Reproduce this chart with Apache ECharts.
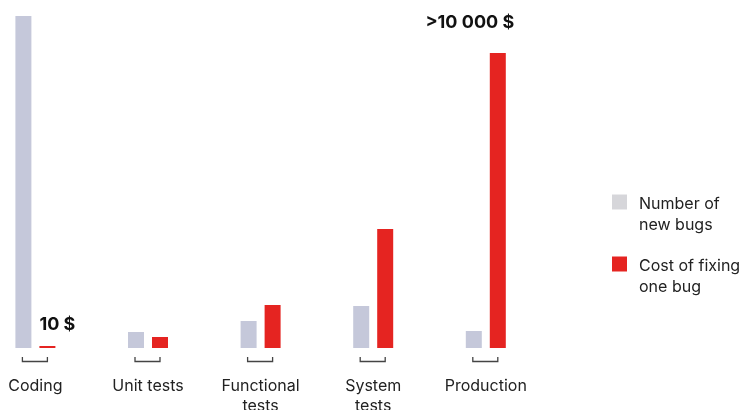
<!DOCTYPE html>
<html>
<head>
<meta charset="utf-8">
<script src="https://cdn.jsdelivr.net/npm/echarts@6/dist/echarts.min.js"></script>
<style>
  html, body { margin: 0; padding: 0; background: #fff; }
  #chart { width: 739px; height: 410px; }
</style>
</head>
<body>
<div id="chart"></div>
<script>
const categories = ["Coding", "Unit tests", "Functional\ntests", "System\ntests", "Production"];
const newBugs = [332, 16, 27, 42, 17];
const fixCost = [2, 11, 43, 119, 295];
const costLabels = ["10 $", "", "", "", ">10 000 $"];
const seriesNames = ["Number of\nnew bugs", "Cost of fixing\none bug"];

const FONT = "Inter, 'Noto Sans', sans-serif";
const GRAY = "#c5c8da";
const RED = "#e52421";

const chart = echarts.init(document.getElementById('chart'));

const costData = fixCost.map((v, i) => {
  const item = { value: v };
  if (costLabels[i]) {
    item.label = {
      show: true,
      formatter: costLabels[i],
      position: 'top',
      fontFamily: FONT,
      fontWeight: 'bold',
      fontSize: 18,
      color: '#111'
    };
    if (i === 0) {
      item.label.align = 'left';
      item.label.offset = [-8, 0];
      item.label.distance = 12;
    } else {
      item.label.offset = [-28, 0];
      item.label.distance = 21;
    }
  }
  return item;
});

chart.setOption({
  animation: false,
  grid: { left: -20.9, width: 563, top: 16, bottom: 62, outerBoundsMode: 'none', containLabel: false },
  xAxis: {
    type: 'category',
    data: categories,
    axisLine: { show: false },
    axisTick: { show: false },
    axisLabel: {
      color: '#222',
      fontFamily: FONT,
      fontSize: 16,
      lineHeight: 20,
      margin: 28,
      interval: 0
    }
  },
  yAxis: { type: 'value', min: 0, max: 332, show: false },
  legend: {
    orient: 'vertical',
    left: 612,
    top: 180.5,
    padding: 0,
    itemWidth: 15,
    itemHeight: 15,
    itemGap: 9,
    icon: 'rect',
    formatter: function (name) {
      return '{s| }\n' + name.split('\n').map(t => '{t|' + t + '}').join('\n');
    },
    textStyle: {
      color: '#222',
      fontFamily: FONT,
      fontSize: 16,
      rich: {
        s: { fontSize: 1, lineHeight: 26 },
        t: { color: '#222', fontFamily: FONT, fontSize: 16, lineHeight: 21, padding: [0, 0, 0, 7] }
      }
    },
    data: [
      { name: seriesNames[0], itemStyle: { color: '#d6d6da' } },
      { name: seriesNames[1], itemStyle: { color: RED } }
    ],
    selectedMode: false
  },
  series: [
    {
      name: seriesNames[0],
      type: 'bar',
      data: newBugs,
      barWidth: 16,
      barGap: '50%',
      itemStyle: { color: GRAY }
    },
    {
      name: seriesNames[1],
      type: 'bar',
      data: costData,
      barWidth: 16,
      barGap: '50%',
      itemStyle: { color: RED }
    },
    {
      type: 'custom',
      silent: true,
      data: categories.map((c, i) => [i, 0]),
      encode: { x: 0, y: 1 },
      renderItem: function (params, api) {
        const p = api.coord([api.value(0), 0]);
        const x = p[0] - 0.5, y = p[1];
        return {
          type: 'polyline',
          shape: {
            points: [[x - 12.5, y + 9], [x - 12.5, y + 13.5], [x + 12.5, y + 13.5], [x + 12.5, y + 9]]
          },
          style: { stroke: '#444', lineWidth: 1.3, fill: null }
        };
      }
    }
  ]
});
</script>
</body>
</html>
